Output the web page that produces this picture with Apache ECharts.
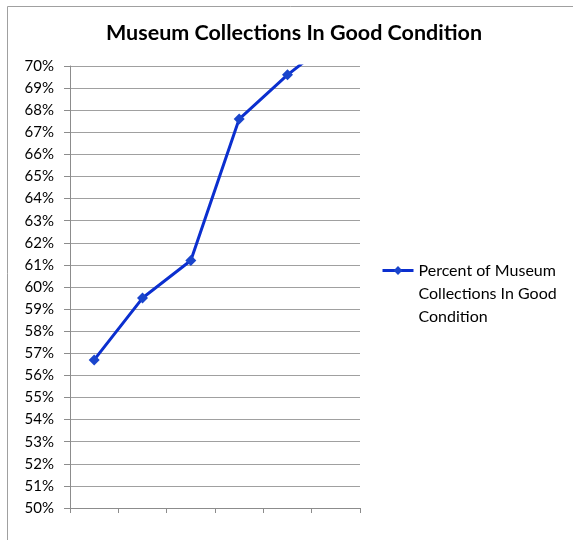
<!DOCTYPE html>
<html>
<head>
<meta charset="utf-8">
<script src="https://cdn.jsdelivr.net/npm/echarts@6/dist/echarts.min.js"></script>
<style>
  html, body { margin: 0; padding: 0; background: #fff; }
  #chart { width: 573px; height: 540px; }
</style>
</head>
<body>
<div id="chart"></div>
<script>
  // data
  var categories = ['1', '2', '3', '4', '5', '6'];
  var percentGood = [0.567, 0.595, 0.612, 0.676, 0.696, 0.713];
  var yTicks = [0.50, 0.70, 0.01];

  var chart = echarts.init(document.getElementById('chart'));
  var font = 'Lato, "Open Sans", sans-serif';

  chart.setOption({
    animation: false,
    title: {
      text: 'Museum Collections In Good Condition',
      left: 289,
      textAlign: 'center',
      top: 17,
      textStyle: { fontFamily: font, fontSize: 21.5, fontWeight: 'bold', color: '#000' }
    },
    graphic: [{
      type: 'rect',
      shape: { x: 7.5, y: 6.5, width: 600, height: 600 },
      style: { fill: 'none', stroke: '#a0a0a0', lineWidth: 1 },
      silent: true
    }],
    grid: { left: 70, right: 213, top: 66, bottom: 32 },
    legend: {
      left: 381,
      top: 213,
      padding: 0,
      itemWidth: 31,
      itemHeight: 11,
      itemGap: 0,
      lineStyle: { width: 3 },
      // two blank lines first so the first text line sits level with the icon
      formatter: function () { return '\n\nPercent of Museum\nCollections In Good\nCondition'; },
      textStyle: { fontFamily: font, fontSize: 16, lineHeight: 23, color: '#000' }
    },
    xAxis: {
      type: 'category',
      data: categories,
      boundaryGap: true,
      axisLine: { lineStyle: { color: '#8c8c8c' } },
      axisTick: { show: true, length: 5, lineStyle: { color: '#8c8c8c' } },
      axisLabel: { show: false },
      splitLine: { show: false }
    },
    yAxis: {
      type: 'value',
      min: yTicks[0],
      max: yTicks[1],
      interval: yTicks[2],
      axisLine: { show: true, lineStyle: { color: '#8c8c8c' } },
      axisTick: { show: true, length: 6, lineStyle: { color: '#8c8c8c' } },
      axisLabel: {
        margin: 16,
        fontFamily: font,
        fontSize: 15,
        color: '#000',
        formatter: function (v) { return Math.round(v * 100) + '%'; }
      },
      splitLine: { lineStyle: { color: '#a0a0a0', width: 1 } }
    },
    series: [{
      name: 'Percent of Museum Collections In Good Condition',
      type: 'line',
      data: percentGood,
      clip: true,
      symbol: 'diamond',
      symbolSize: 11,
      lineStyle: { color: '#0b2fcf', width: 3 },
      itemStyle: { color: '#1a45cc' }
    }]
  });
</script>
</body>
</html>
